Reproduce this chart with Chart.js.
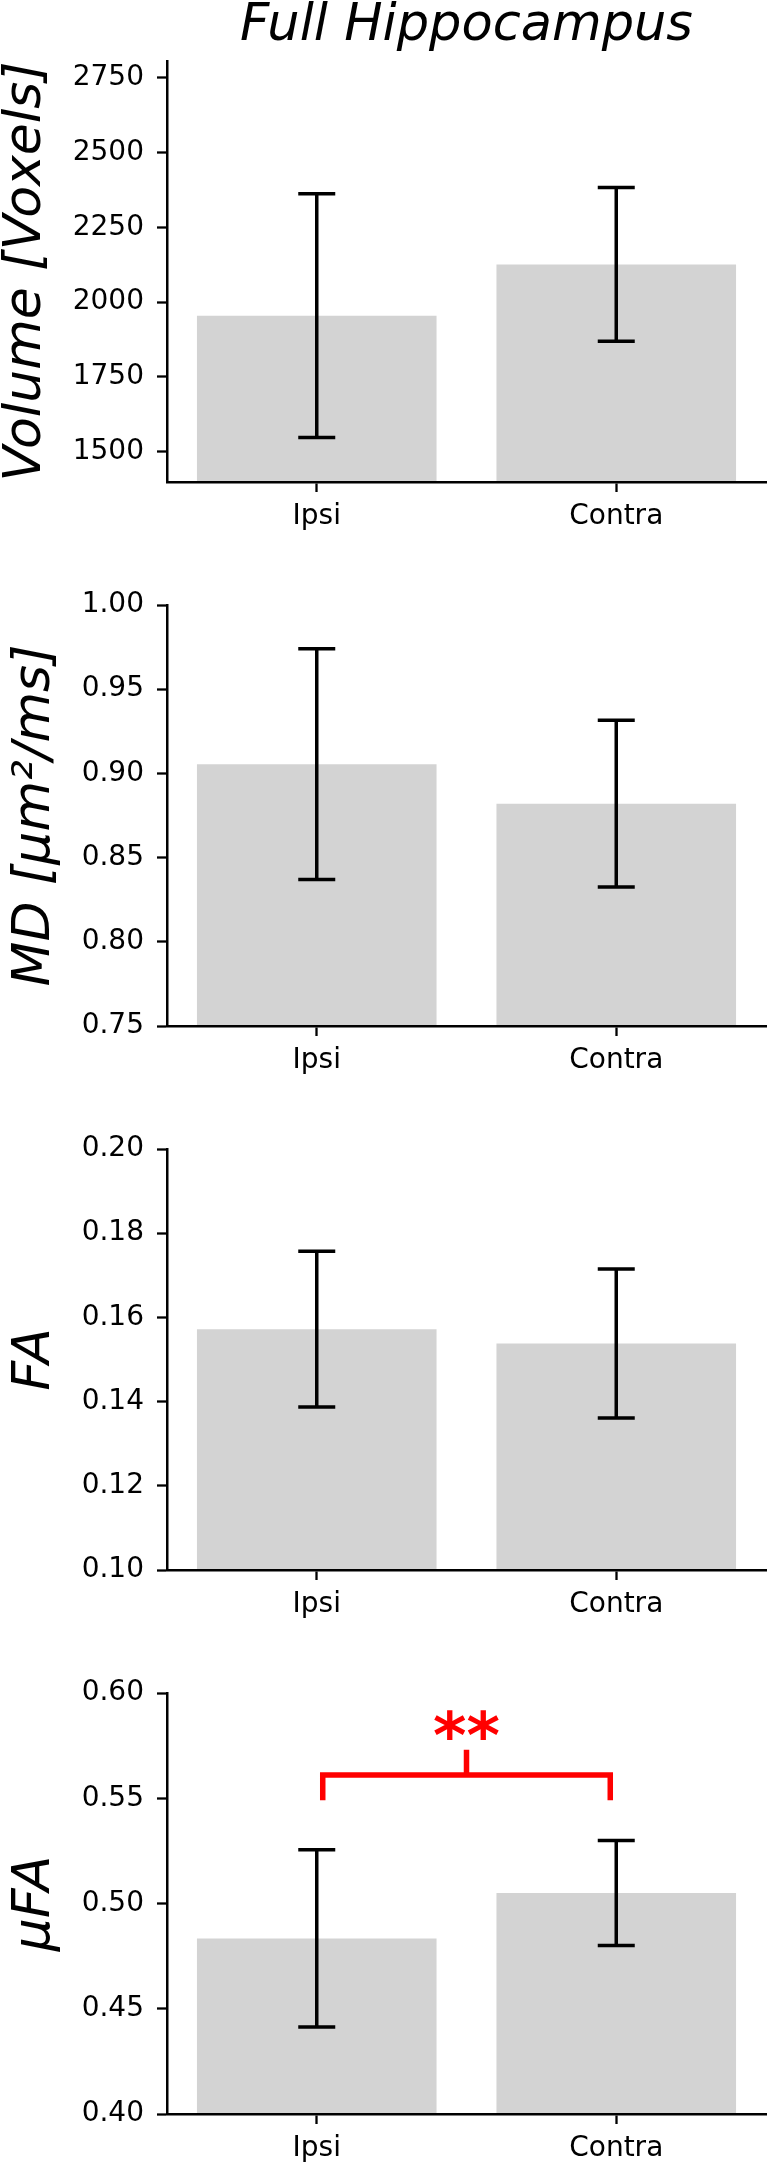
<!DOCTYPE html>
<html>
<head>
<meta charset="utf-8">
<script src="https://cdn.jsdelivr.net/npm/chart.js@4.4.0/dist/chart.umd.min.js"></script>
<style>
  html, body { margin: 0; padding: 0; background: #fff; }
  body { position: relative; width: 769px; height: 2173px; overflow: hidden; }
  canvas { position: absolute; left: 0; display: block; }
</style>
</head>
<body>
<canvas id="chartVolume" width="769" height="544" style="top:0"></canvas>
<canvas id="chartMD" width="769" height="544" style="top:544px"></canvas>
<canvas id="chartFA" width="769" height="544" style="top:1088px"></canvas>
<canvas id="chartUFA" width="769" height="541" style="top:1632px"></canvas>
<script>
'use strict';

/* ----------------------------------------------------------
   DATA
   ---------------------------------------------------------- */
const groups = ['Ipsi', 'Contra'];

const volumeMeans  = [1955, 2126];
const volumeErrors = [407, 257];
const volumeTicks  = [1500, 1750, 2000, 2250, 2500, 2750];
const volumeTickLabels = ['1500', '1750', '2000', '2250', '2500', '2750'];
const volumeRange  = [1399, 2806];

const mdMeans  = [0.9055, 0.882];
const mdErrors = [0.0685, 0.0495];
const mdTicks  = [0.75, 0.80, 0.85, 0.90, 0.95, 1.00];
const mdTickLabels = ['0.75', '0.80', '0.85', '0.90', '0.95', '1.00'];
const mdRange  = [0.75, 1.00];

const faMeans  = [0.1572, 0.1538];
const faErrors = [0.0185, 0.0177];
const faTicks  = [0.10, 0.12, 0.14, 0.16, 0.18, 0.20];
const faTickLabels = ['0.10', '0.12', '0.14', '0.16', '0.18', '0.20'];
const faRange  = [0.10, 0.20];

const ufaMeans  = [0.4834, 0.505];
const ufaErrors = [0.0421, 0.0249];
const ufaTicks  = [0.40, 0.45, 0.50, 0.55, 0.60];
const ufaTickLabels = ['0.40', '0.45', '0.50', '0.55', '0.60'];
const ufaRange  = [0.40, 0.60];

// significance bracket Ipsi vs Contra (µFA)
const sigText = '**';
const sigFrom = 0.02;       // fraction of the way from Ipsi to Contra
const sigTo   = 0.98;
const sigLegBottom = 0.549;
const sigBarLevel  = 0.561;
const sigTickTop   = 0.573;
const sigTextLevel = 0.569;

/* ----------------------------------------------------------
   LAYOUT / STYLE
   ---------------------------------------------------------- */
const AREA_TOP = 61;
const AREA_BOTTOM = 482;
const AXIS_LEFT = 167;
const FONT = 'DejaVu Sans';
const tickFont  = { family: FONT, size: 28, lineHeight: 1.2 };
const labelFont = { family: FONT, size: 52, style: 'italic', lineHeight: 1 };

/* ----------------------------------------------------------
   PLUGINS
   ---------------------------------------------------------- */
const errorBarPlugin = {
  id: 'errorBars',
  afterDatasetsDraw(chart, args, opts) {
    const { ctx } = chart;
    const y = chart.scales.y;
    const means = chart.data.datasets[0].data;
    ctx.save();
    ctx.strokeStyle = '#000';
    ctx.lineWidth = 3.5;
    chart.getDatasetMeta(0).data.forEach((bar, i) => {
      const top = y.getPixelForValue(means[i] + opts.errors[i]);
      const bottom = y.getPixelForValue(means[i] - opts.errors[i]);
      const cap = 18.5;
      ctx.beginPath();
      ctx.moveTo(bar.x, top);          ctx.lineTo(bar.x, bottom);
      ctx.moveTo(bar.x - cap, top);    ctx.lineTo(bar.x + cap, top);
      ctx.moveTo(bar.x - cap, bottom); ctx.lineTo(bar.x + cap, bottom);
      ctx.stroke();
    });
    ctx.restore();
  }
};

const bracketPlugin = {
  id: 'sigBracket',
  afterDatasetsDraw(chart, args, opts) {
    if (!opts || !opts.text) return;
    const { ctx } = chart;
    const { x, y } = chart.scales;
    const x0 = x.getPixelForValue(0);
    const x1 = x.getPixelForValue(1);
    const left = x0 + (x1 - x0) * opts.from;
    const right = x0 + (x1 - x0) * opts.to;
    const mid = (left + right) / 2;
    const legY = y.getPixelForValue(opts.legBottom);
    const barY = y.getPixelForValue(opts.level);
    const tickY = y.getPixelForValue(opts.tickTop);
    ctx.save();
    ctx.strokeStyle = '#ff0000';
    ctx.lineWidth = 5.5;
    ctx.lineJoin = 'miter';
    ctx.lineCap = 'butt';
    ctx.beginPath();
    ctx.moveTo(left, legY);
    ctx.lineTo(left, barY);
    ctx.lineTo(right, barY);
    ctx.lineTo(right, legY);
    ctx.moveTo(mid, barY);
    ctx.lineTo(mid, tickY);
    ctx.stroke();
    ctx.fillStyle = '#ff0000';
    ctx.font = `bold 64px "${FONT}"`;
    ctx.textAlign = 'center';
    ctx.textBaseline = 'alphabetic';
    ctx.fillText(opts.text, mid, y.getPixelForValue(opts.textLevel));
    ctx.restore();
  }
};

/* ----------------------------------------------------------
   PANEL BUILDER
   ---------------------------------------------------------- */
function buildPanel(canvasId, cfg) {
  const canvas = document.getElementById(canvasId);
  return new Chart(canvas, {
    type: 'bar',
    data: {
      labels: groups,
      datasets: [{
        data: cfg.means,
        backgroundColor: '#d3d3d3',
        borderWidth: 0,
        barPercentage: 1,
        categoryPercentage: 0.8,
      }]
    },
    options: {
      responsive: false,
      animation: false,
      devicePixelRatio: 1,
      layout: { padding: { top: cfg.title ? 0 : AREA_TOP, right: 3, bottom: 0, left: 0 } },
      plugins: {
        legend: { display: false },
        tooltip: { enabled: false },
        title: cfg.title ? {
          display: true,
          text: cfg.title,
          fullSize: false,
          color: '#000',
          font: { family: FONT, size: 51, style: 'italic', weight: 'normal', lineHeight: 1 },
          padding: { top: 1, bottom: AREA_TOP - 52 },
        } : { display: false },
        errorBars: { errors: cfg.errors },
        sigBracket: cfg.bracket || false,
      },
      scales: {
        x: {
          offset: true,
          grid: { display: true, drawOnChartArea: false, offset: false, tickLength: 10, tickWidth: 2.3, tickColor: '#000' },
          border: { display: true, color: '#000', width: 2.5, z: 1 },
          ticks: { color: '#000', font: tickFont, padding: 8, maxRotation: 0 },
          afterFit: s => { s.height = canvas.height - AREA_BOTTOM; },
        },
        y: {
          min: cfg.range[0],
          max: cfg.range[1],
          afterBuildTicks: s => { s.ticks = cfg.ticks.map(v => ({ value: v })); },
          grid: { display: true, drawOnChartArea: false, tickLength: 10, tickWidth: 2.3, tickColor: '#000' },
          border: { display: true, color: '#000', width: 2.5, z: 1 },
          ticks: { color: '#000', font: tickFont, padding: 13, callback: (v, i) => cfg.tickLabels[i] },
          title: { display: true, text: cfg.label, color: '#000', font: labelFont, padding: { top: cfg.labelPad, bottom: 0 } },
          afterFit: s => { s.width = AXIS_LEFT; },
        }
      }
    },
    plugins: [errorBarPlugin, bracketPlugin]
  });
}

/* ----------------------------------------------------------
   INIT
   ---------------------------------------------------------- */
buildPanel('chartVolume', {
  title: 'Full Hippocampus', label: 'Volume [Voxels]', labelPad: 0,
  means: volumeMeans, errors: volumeErrors, range: volumeRange,
  ticks: volumeTicks, tickLabels: volumeTickLabels,
});
buildPanel('chartMD', {
  label: 'MD [μm²/ms]', labelPad: 9,
  means: mdMeans, errors: mdErrors, range: mdRange,
  ticks: mdTicks, tickLabels: mdTickLabels,
});
buildPanel('chartFA', {
  label: 'FA', labelPad: 9,
  means: faMeans, errors: faErrors, range: faRange,
  ticks: faTicks, tickLabels: faTickLabels,
});
buildPanel('chartUFA', {
  label: 'μFA', labelPad: 9,
  means: ufaMeans, errors: ufaErrors, range: ufaRange,
  ticks: ufaTicks, tickLabels: ufaTickLabels,
  bracket: {
    text: sigText, from: sigFrom, to: sigTo,
    legBottom: sigLegBottom, level: sigBarLevel, tickTop: sigTickTop, textLevel: sigTextLevel,
  },
});
</script>
</body>
</html>
